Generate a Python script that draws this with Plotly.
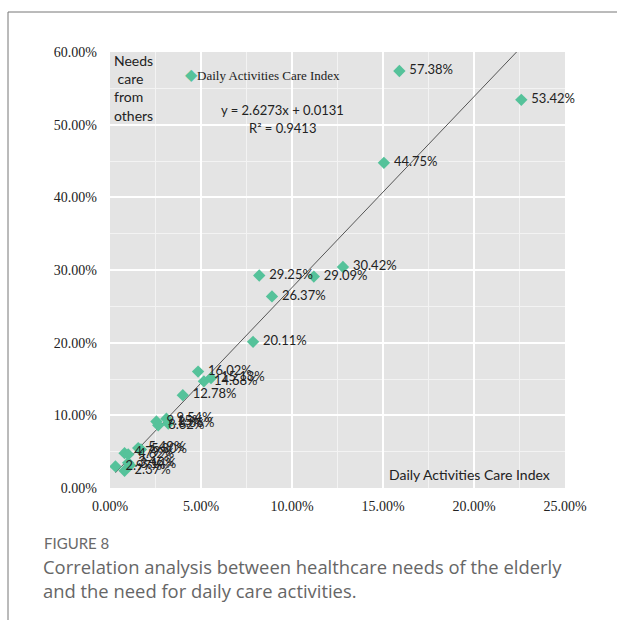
import plotly.graph_objects as go

# Daily activities care index (x) vs share needing care from others (y)
care_index = [0.159, 0.226, 0.1505, 0.128, 0.112, 0.082, 0.089, 0.0786,
              0.0484, 0.0555, 0.0516, 0.040,
              0.0310, 0.0255, 0.0320, 0.0265,
              0.0155, 0.0170, 0.0080, 0.0100, 0.0100, 0.0110, 0.0030, 0.0080]
needs_care = [0.5738, 0.5342, 0.4475, 0.3042, 0.2909, 0.2925, 0.2637, 0.2011,
              0.1602, 0.1513, 0.1468, 0.1278,
              0.0954, 0.0915, 0.0886, 0.0862,
              0.0549, 0.0530, 0.0479, 0.0462, 0.0346, 0.0314, 0.0297, 0.0237]

# Linear trend reported for the series
slope = 2.6273
intercept = 0.0131
r_squared = 0.9413

x_ticks = [0, 0.05, 0.10, 0.15, 0.20, 0.25]
y_ticks = [0, 0.10, 0.20, 0.30, 0.40, 0.50, 0.60]

W, H = 617, 620
L, R, T, B = 110, 565, 52, 488  # plot area in pixels


def px(x):
    return (x - L) / (R - L)


def py(y):
    return (B - y) / (B - T)


marker_color = "#55c29a"
sans = "Lato, 'Open Sans', sans-serif"
caption_font = "'Open Sans', Lato, sans-serif"
serif = "'Liberation Serif', 'Times New Roman', serif"

fig = go.Figure()

trend_x = [min(care_index), max(care_index)]
trend_y = [slope * v + intercept for v in trend_x]
fig.add_trace(go.Scatter(
    x=trend_x, y=trend_y, mode="lines",
    line=dict(color="#555555", width=1), showlegend=False, hoverinfo="skip"))

fig.add_trace(go.Scatter(
    x=care_index, y=needs_care, mode="markers",
    name="Daily Activities Care Index",
    marker=dict(symbol="diamond", size=9.5, color=marker_color),
    showlegend=False))

pad = "\u00a0\u00a0\u00a0"
fig.add_trace(go.Scatter(
    x=care_index, y=needs_care, mode="text",
    text=[f"{pad}{v * 100:.2f}%" for v in needs_care],
    textposition="middle right",
    textfont=dict(family=sans, size=13, color="#222222"),
    showlegend=False, hoverinfo="skip", cliponaxis=False))

fig.update_xaxes(
    range=[0, 0.25], tickvals=x_ticks, tickformat=".2%",
    showgrid=True, gridcolor="white", gridwidth=2, zeroline=False,
    showline=False, ticks="", ticklabelstandoff=8,
    tickfont=dict(family=serif, size=14, color="#222222"),
    minor=dict(dtick=0.025, showgrid=True, gridcolor="#f3f3f3", gridwidth=1))
fig.update_yaxes(
    range=[0, 0.6], tickvals=y_ticks, tickformat=".2%",
    showgrid=True, gridcolor="white", gridwidth=2, zeroline=False,
    showline=False, ticks="", ticklabelstandoff=12,
    tickfont=dict(family=serif, size=14, color="#222222"),
    minor=dict(dtick=0.05, showgrid=True, gridcolor="#f3f3f3", gridwidth=1))

annotations = [
    # series key
    dict(x=px(183), y=py(75), xref="paper", yref="paper", xanchor="left", yanchor="middle",
         showarrow=False,
         text=f"<span style='color:{marker_color};font-size:16px'>◆</span>"
              "Daily Activities Care Index",
         font=dict(family=serif, size=13, color="#222222")),
    dict(x=px(112), y=py(50), xref="paper", yref="paper", xanchor="left", yanchor="top",
         align="left", showarrow=False,
         text="Needs<br> care<br>from<br>others",
         font=dict(family=sans, size=14, color="#222222")),
    dict(x=px(282), y=py(110), xref="paper", yref="paper", xanchor="center", yanchor="middle",
         showarrow=False, text=f"y = {slope}x + {intercept}",
         font=dict(family=sans, size=13, color="#222222")),
    dict(x=px(282), y=py(128), xref="paper", yref="paper", xanchor="center", yanchor="middle",
         showarrow=False, text=f"R² = {r_squared}",
         font=dict(family=sans, size=13, color="#222222")),
    dict(x=px(387), y=py(474), xref="paper", yref="paper", xanchor="left", yanchor="middle",
         showarrow=False, text="Daily Activities Care Index",
         font=dict(family=sans, size=14, color="#222222")),
    dict(x=px(42), y=py(543), xref="paper", yref="paper", xanchor="left", yanchor="middle",
         showarrow=False, text="FIGURE 8",
         font=dict(family=sans, size=15, color="#6a6a6a")),
    dict(x=px(41), y=py(578), xref="paper", yref="paper", xanchor="left", yanchor="middle",
         align="left", showarrow=False,
         text="Correlation analysis between healthcare needs of the elderly<br>"
              "and the need for daily care activities.",
         font=dict(family=caption_font, size=18.4, color="#666666")),
]

shapes = [
    dict(type="line", xref="paper", yref="paper", x0=px(8), y0=py(12), x1=px(617), y1=py(12),
         line=dict(color="#777777", width=1)),
    dict(type="line", xref="paper", yref="paper", x0=px(8), y0=py(12), x1=px(8), y1=py(620),
         line=dict(color="#777777", width=1)),
]

fig.update_layout(
    width=W, height=H,
    margin=dict(l=L, r=W - R, t=T, b=H - B, autoexpand=False),
    paper_bgcolor="white", plot_bgcolor="#e4e4e4",
    showlegend=False,
    annotations=annotations, shapes=shapes,
)

fig.write_html("out.html")
